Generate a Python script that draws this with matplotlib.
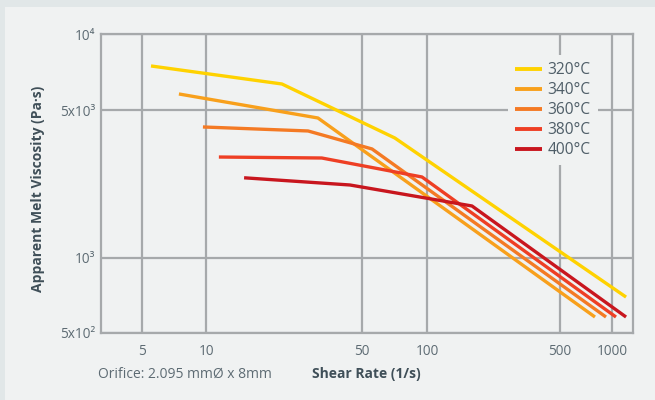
import numpy as np
import matplotlib
matplotlib.use("Agg")
import matplotlib.pyplot as plt
from matplotlib.patches import Rectangle
from matplotlib.ticker import FixedLocator, NullLocator

plt.rcParams['font.family'] = ['Open Sans', 'DejaVu Sans']

# ---------------- data ----------------
temps = ["320°C", "340°C", "360°C", "380°C", "400°C"]
colors = ["#ffd200", "#f8a01c", "#f47a24", "#ee3f24", "#c8161e"]

shear_320 = [5.5, 21.9, 71, 1200]
visc_320 = [7480, 6350, 3695, 695]

shear_340 = [7.44, 31.8, 795]
visc_340 = [5800, 4597, 578]

shear_360 = [9.65, 28.7, 55.8, 920]
visc_360 = [4168, 3990, 3278, 578]

shear_380 = [11.4, 33.1, 94.6, 1050]
visc_380 = [3002, 2970, 2414, 578]

shear_400 = [14.8, 44.3, 172, 1200]
visc_400 = [2393, 2212, 1759, 578]

x_ticks = [5, 10, 50, 100, 500, 1000]
x_tick_labels = ["5", "10", "50", "100", "500", "1000"]
y_ticks = [500, 1000, 5000, 10000]
y_tick_labels = ["5x10²", "10³", "5x10³", "10⁴"]

series = [(shear_320, visc_320), (shear_340, visc_340), (shear_360, visc_360),
          (shear_380, visc_380), (shear_400, visc_400)]

# ------------- uneven log scales (as drawn in the reference) -------------
XK_LOG = np.log10([5, 10, 50, 100, 500, 1000])
XK_POS = np.array([142.3, 206.3, 361.7, 427.3, 560.0, 612.3])
YK_LOG = np.log10([500, 1000, 5000, 10000])
YK_POS = np.array([-332.7, -257.7, -110.3, -34.0])


def pw(v, xs, ys):
    v = np.asarray(v, dtype=float)
    out = np.interp(v, xs, ys)
    lo = v < xs[0]
    hi = v > xs[-1]
    s0 = (ys[1] - ys[0]) / (xs[1] - xs[0])
    s1 = (ys[-1] - ys[-2]) / (xs[-1] - xs[-2])
    out = np.where(lo, ys[0] + (v - xs[0]) * s0, out)
    out = np.where(hi, ys[-1] + (v - xs[-1]) * s1, out)
    return out


def make_scale(klog, kpos):
    def fwd(v):
        v = np.clip(np.asarray(v, dtype=float), 1e-12, None)
        return pw(np.log10(v), klog, kpos)

    def inv(p):
        return 10 ** pw(p, kpos, klog)
    return fwd, inv


W, H = 655, 400
fig = plt.figure(figsize=(W / 100, H / 100), dpi=100, facecolor="#f0f2f2")
fig.patches.append(Rectangle((0, 1 - 7 / H), 1, 7 / H, transform=fig.transFigure,
                             facecolor="#e1e7e8", edgecolor="none", zorder=0))
fig.patches.append(Rectangle((0, 0), 5 / W, 1, transform=fig.transFigure,
                             facecolor="#e1e7e8", edgecolor="none", zorder=0))

left, right, top, bottom = 101, 633.3, 34, 332.7
ax = fig.add_axes([left / W, 1 - bottom / H, (right - left) / W, (bottom - top) / H])
ax.set_facecolor("#f0f2f2")

ax.set_xscale("function", functions=make_scale(XK_LOG, XK_POS))
ax.set_yscale("function", functions=make_scale(YK_LOG, YK_POS))
ax.set_xlim(3.2, 1321)
ax.set_ylim(500, 10000)

grid_c = "#a6a9ab"
for s in ax.spines.values():
    s.set_color(grid_c)
    s.set_linewidth(1.6)

ax.xaxis.set_major_locator(FixedLocator(x_ticks))
ax.yaxis.set_major_locator(FixedLocator(y_ticks))
ax.xaxis.set_minor_locator(NullLocator())
ax.yaxis.set_minor_locator(NullLocator())
ax.set_xticklabels(x_tick_labels)
ax.set_yticklabels(y_tick_labels)
ax.grid(True, color=grid_c, linewidth=1.6)
ax.set_axisbelow(True)

tick_c = "#5d6b73"
ax.tick_params(axis="both", length=0, labelsize=9.8, labelcolor=tick_c)
ax.tick_params(axis="x", pad=8)
ax.tick_params(axis="y", pad=4)

for (xs, ys), c, lab in zip(series, colors, temps):
    ax.plot(xs, ys, color=c, linewidth=2.4, label=lab, solid_capstyle="butt")

leg = ax.legend(loc="upper left", bbox_to_anchor=(508 / W, 1 - 55 / H),
                bbox_transform=fig.transFigure, frameon=True, fontsize=11.2,
                handlelength=1.75, handletextpad=0.35, labelspacing=0.26,
                borderpad=0.45, borderaxespad=0)
leg.get_frame().set_facecolor("#f0f2f2")
leg.get_frame().set_edgecolor("none")
leg.get_frame().set_alpha(1)
for t in leg.get_texts():
    t.set_color("#4f5e68")
for h in leg.get_lines():
    h.set_linewidth(2.8)

fig.text(98 / W, 1 - 374 / H, "Orifice: 2.095 mmØ x 8mm", fontsize=10,
         color=tick_c, ha="left", va="center")
fig.text(366 / W, 1 - 374 / H, "Shear Rate (1/s)", fontsize=10, fontweight="bold",
         color="#3f4f58", ha="center", va="center")
fig.text(38 / W, 1 - 189 / H, "Apparent Melt Viscosity (Pa·s)", fontsize=10,
         fontweight="bold", color="#3f4f58", ha="center", va="center", rotation=90)

fig.savefig("out.png", dpi=100, facecolor=fig.get_facecolor())
